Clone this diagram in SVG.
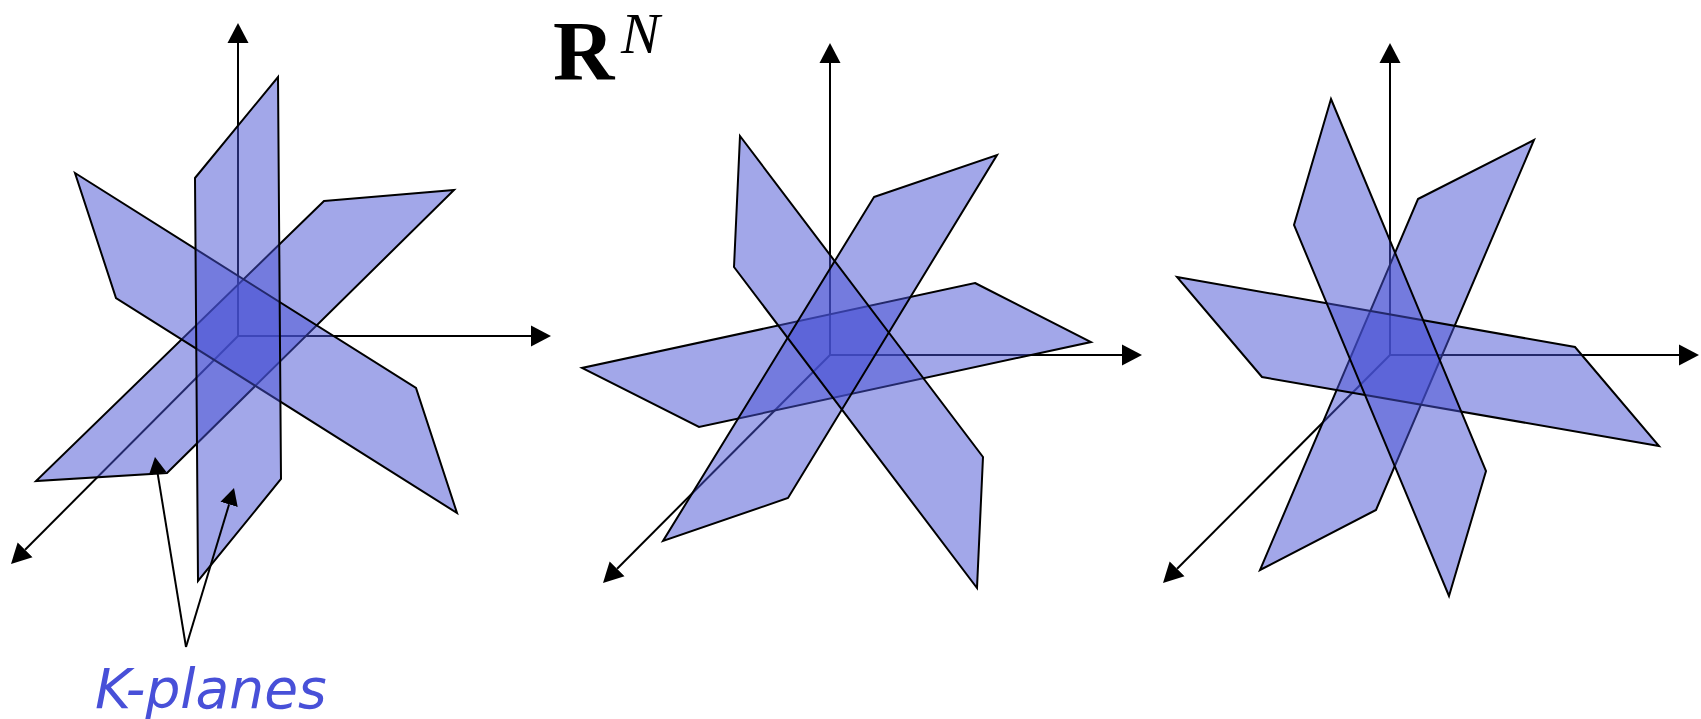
<svg xmlns="http://www.w3.org/2000/svg" width="1701" height="719" viewBox="0 0 1701 719">
  <style>
    .axis { stroke: #000; stroke-width: 2; fill: none; marker-end: url(#ah); }
    .ptr { stroke: #000; stroke-width: 2; fill: none; marker-end: url(#ah2); }
    .plane { fill: rgb(70,80,212); fill-opacity: 0.5; stroke: #000; stroke-width: 2; stroke-linejoin: miter; }
    .fillonly { fill: rgb(70,80,212); fill-opacity: 0.5; stroke: none; }
    .edge { fill: none; stroke: #000; stroke-width: 2; }
    .lbl { font-family: "DejaVu Sans", Verdana, sans-serif; font-style: italic; font-size: 55px; fill: #4850D8; }
    .rn { font-family: "Liberation Serif", "Times New Roman", serif; fill: #000; }
  </style>
  <defs>
    <marker id="ah" markerUnits="userSpaceOnUse" markerWidth="22" markerHeight="24" viewBox="0 -12 22 24" refX="0" refY="0" orient="auto">
      <path d="M0,-10.5 L20,0 L0,10.5 z" fill="#000"/>
    </marker>
    <marker id="ah2" markerUnits="userSpaceOnUse" markerWidth="20" markerHeight="22" viewBox="0 -11 20 22" refX="0" refY="0" orient="auto">
      <path d="M0,-9 L17,0 L0,9 z" fill="#000"/>
    </marker>
  </defs>
  <rect width="1701" height="719" fill="#fff"/>

  <g id="connectors">
    <!-- panel 1 axes -->
    <line class="axis" x1="238" y1="336" x2="238" y2="43"/>
    <line class="axis" x1="238" y1="336" x2="531" y2="336"/>
    <line class="axis" x1="238" y1="336" x2="25.1" y2="549.8"/>
    <!-- panel 2 axes -->
    <line class="axis" x1="830" y1="355" x2="830" y2="63"/>
    <line class="axis" x1="830" y1="355" x2="1122" y2="355"/>
    <line class="axis" x1="830" y1="355" x2="617.1" y2="568.8"/>
    <!-- panel 3 axes -->
    <line class="axis" x1="1390" y1="355" x2="1390" y2="63"/>
    <line class="axis" x1="1390" y1="355" x2="1679" y2="355"/>
    <line class="axis" x1="1390" y1="355" x2="1177.1" y2="568.8"/>
  </g>

  <!-- panel 1 planes -->
  <g id="plane-p1-c"><polygon class="plane" points="324,201 454,190 167,473 36,481"/></g>
  <g id="plane-p1-b"><polygon class="plane" points="75,173 416,388 457,513 116,298"/></g>
  <g id="plane-p1-a"><polygon class="plane" points="195,178 278,77 281,479 198,581"/></g>

  <!-- panel 2 planes -->
  <g id="plane-p2-f"><polygon class="plane" points="975,283 1091,342 699,427 582,368"/></g>
  <g id="plane-p2-d"><polygon class="fillonly" points="740,136 983,457 977,588 734,267"/></g>
  <g id="plane-p2-e"><polygon class="fillonly" points="874,197 997,155 788,498 663,541"/></g>
  <g id="plane-p2-edges">
    <polygon class="edge" points="740,136 983,457 977,588 734,267"/>
    <polygon class="edge" points="874,197 997,155 788,498 663,541"/>
  </g>

  <!-- panel 3 planes -->
  <g id="plane-p3-h"><polygon class="plane" points="1418,199 1534,140 1376,510 1260,570"/></g>
  <g id="plane-p3-i"><polygon class="plane" points="1177,277 1575,347 1659,446 1262,377"/></g>
  <g id="plane-p3-g"><polygon class="plane" points="1331,99 1486,471 1449,596 1294,225"/></g>

  <g id="pointers">
    <line class="ptr" x1="186" y1="647" x2="157.7" y2="473.8"/>
    <line class="ptr" x1="186" y1="647" x2="229.1" y2="504.3"/>
  </g>

  <g id="label-kplanes">
    <text class="lbl" x="95" y="708">K-planes</text>
  </g>
  <g id="label-rn">
    <text class="rn" x="553" y="80" font-size="85" font-weight="bold">R</text>
    <text class="rn" x="621" y="52.5" font-size="58" font-style="italic">N</text>
  </g>
</svg>
